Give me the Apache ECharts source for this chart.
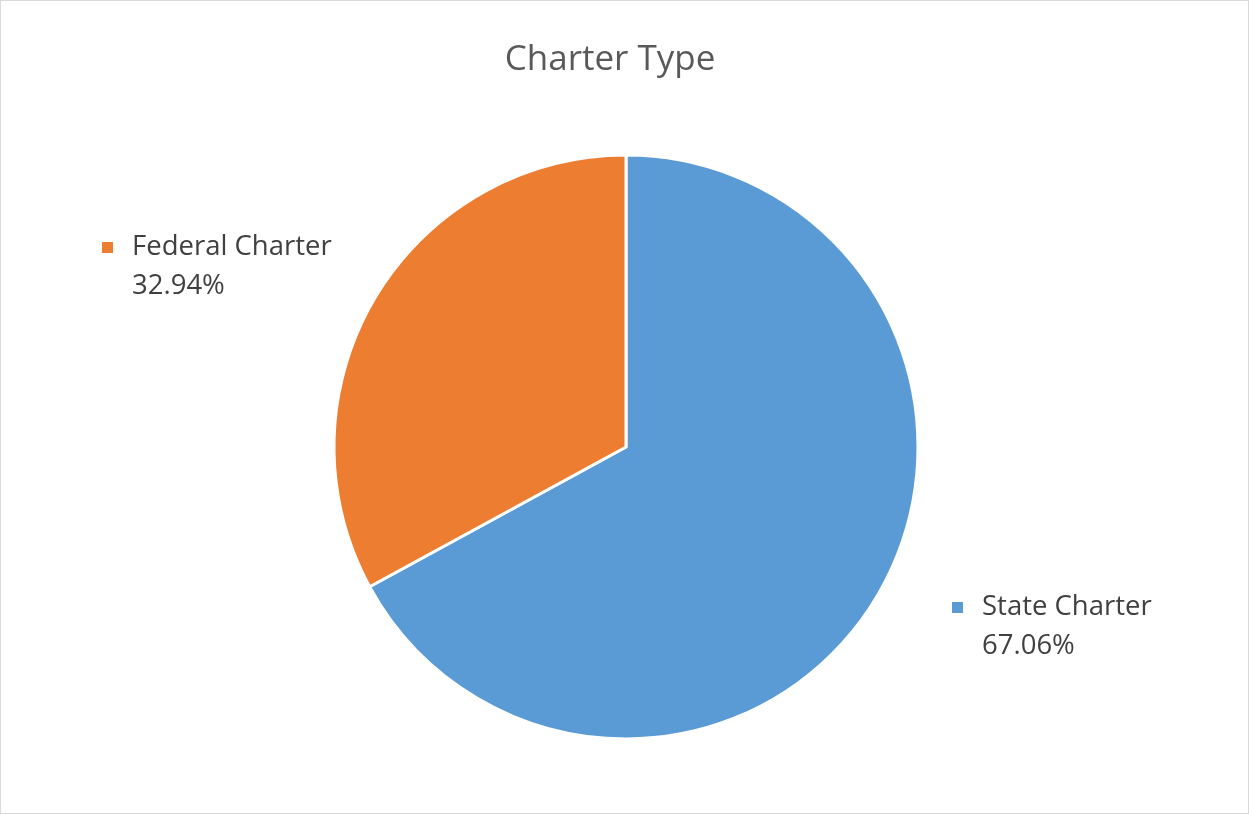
<!DOCTYPE html>
<html>
<head>
<meta charset="utf-8">
<script src="https://cdn.jsdelivr.net/npm/echarts@6/dist/echarts.min.js"></script>
<style>
  html, body { margin: 0; padding: 0; background: #fff; }
  #chart { width: 1249px; height: 814px; box-sizing: border-box; border: 1.5px solid #d9d9d9; }
</style>
</head>
<body>
<div id="chart"></div>
<script>
// Share of institutions by charter type
const categories = ['State Charter', 'Federal Charter'];
const shares = [67.06, 32.94];
const colors = ['#5B9BD5', '#ED7D31'];

const FONT = '"Open Sans", "Noto Sans", sans-serif';

const chart = echarts.init(document.getElementById('chart'), null, { renderer: 'canvas' });

const data = categories.map((name, i) => ({
  name,
  value: shares[i],
  itemStyle: { color: colors[i] },
  label: {
    rich: {
      sq: { width: 11, height: 11, backgroundColor: colors[i] }
    }
  }
}));

// Label anchor points (top-left of each label block)
const labelSpots = [
  { x: 951, y: 587 },
  { x: 101, y: 227 }
];

chart.setOption({
  animation: false,
  title: {
    text: 'Charter Type',
    left: 604,
    textAlign: 'center',
    top: 37,
    textStyle: { fontFamily: FONT, fontSize: 35, fontWeight: 'normal', color: '#595959' }
  },
  series: [{
    type: 'pie',
    center: [625, 446],
    radius: 292,
    startAngle: 90,
    clockwise: true,
    data,
    itemStyle: { borderColor: '#ffffff', borderWidth: 3 },
    labelLine: { show: false },
    label: {
      show: true,
      position: 'outside',
      fontFamily: FONT,
      color: '#404040',
      formatter: p => '{sq|}{name|' + p.name + '}\n{val|' + p.value.toFixed(2) + '%}',
      rich: {
        name: { fontFamily: FONT, fontSize: 27.5, color: '#404040', padding: [0, 0, 0, 19], lineHeight: 39 },
        val: { fontFamily: FONT, fontSize: 27.5, color: '#404040', padding: [0, 0, 0, 30], lineHeight: 39 }
      }
    },
    labelLayout: p => ({
      x: labelSpots[p.dataIndex].x,
      y: labelSpots[p.dataIndex].y,
      align: 'left',
      verticalAlign: 'top',
      hideOverlap: false,
      moveOverlap: false
    })
  }]
});
</script>
</body>
</html>
